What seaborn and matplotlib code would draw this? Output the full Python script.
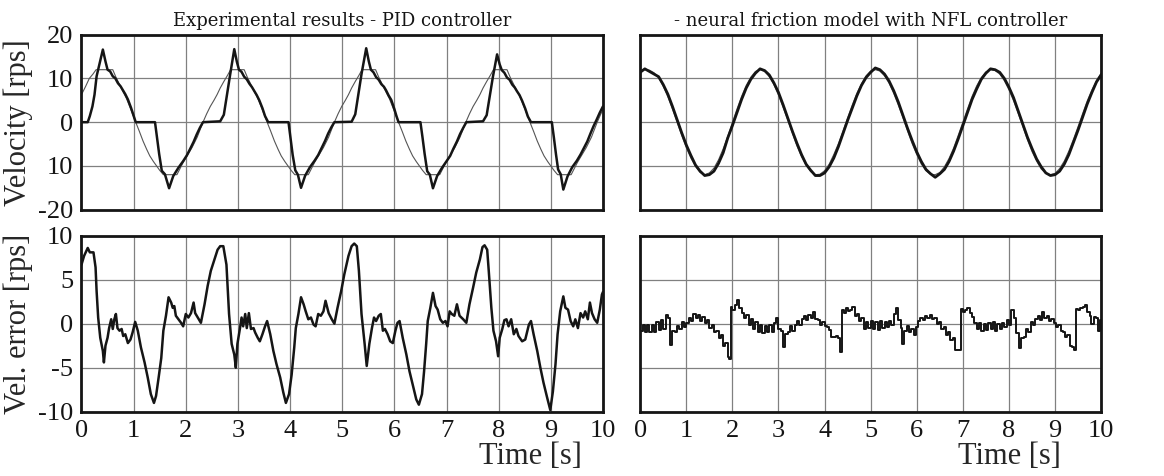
import numpy as np
import matplotlib
matplotlib.use('Agg')
import matplotlib.pyplot as plt
import seaborn as sns

# ---- PID controller: measured velocity (thick) ----
vel_pid_t = [0.00, 0.12, 0.16, 0.21, 0.25, 0.29, 0.34, 0.41, 0.46, 0.50, 0.55, 0.60, 0.65, 0.70, 0.75, 0.79,
             0.84, 0.89, 0.95, 1.00, 1.04, 1.41, 1.45, 1.49, 1.54, 1.60, 1.68, 1.76, 1.86, 1.95, 2.02, 2.08,
             2.15, 2.21, 2.27, 2.33, 2.66, 2.73, 2.79, 2.85, 2.93,
             2.98, 3.02, 3.07, 3.12, 3.17, 3.22, 3.27, 3.31, 3.36, 3.41, 3.47, 3.52, 3.58, 3.97, 4.01, 4.05,
             4.10, 4.15, 4.21, 4.29, 4.38, 4.47, 4.54, 4.60, 4.67, 4.73, 4.79, 4.85, 5.18, 5.25, 5.31, 5.37, 5.46,
             5.51, 5.55, 5.60, 5.65, 5.70, 5.75, 5.80, 5.84, 5.89, 5.94, 6.00, 6.04, 6.08, 6.50, 6.54, 6.58,
             6.63, 6.68, 6.74, 6.82, 6.91, 7.00, 7.07, 7.13, 7.20, 7.26, 7.32, 7.38, 7.70, 7.77, 7.83, 7.89, 7.97,
             8.02, 8.06, 8.11, 8.16, 8.21, 8.26, 8.31, 8.35, 8.40, 8.45, 8.51, 8.56, 8.62, 9.02, 9.06, 9.10,
             9.14, 9.19, 9.24, 9.32, 9.41, 9.50, 9.57, 9.63, 9.70, 9.76, 9.82, 9.88, 9.94, 10.0]
vel_pid = [0.0, 0.0, 1.4, 3.6, 6.3, 10.5, 13.0, 16.6, 13.9, 12.0, 11.6, 10.5, 10.0, 8.9, 8.2, 7.4,
           6.4, 5.2, 3.3, 1.5, 0.0, 0.0, -3.6, -7.3, -11.1, -11.9, -15.1, -12.3, -10.4, -8.9, -7.6, -6.2,
           -4.5, -2.8, -1.3, 0.0, 0.2, 1.7, 6.3, 10.8, 16.7,
           13.8, 12.0, 11.5, 10.4, 9.8, 8.8, 8.0, 7.2, 6.2, 5.0, 3.2, 1.4, 0.0, 0.0, -3.8, -7.5,
           -11.0, -12.0, -15.0, -12.2, -10.3, -8.8, -7.5, -6.0, -4.3, -2.6, -1.2, 0.0, 0.1, 1.8, 6.4, 11.0, 16.9,
           13.9, 12.0, 11.4, 10.3, 9.7, 8.7, 8.1, 7.3, 6.1, 5.1, 3.0, 1.4, 0.0, 0.0, -3.5, -7.2,
           -11.2, -12.0, -15.1, -12.3, -10.5, -8.9, -7.7, -6.1, -4.4, -2.7, -1.3, 0.0, 0.2, 1.6, 6.0, 10.4, 15.5,
           13.2, 11.9, 11.3, 10.2, 9.7, 8.6, 7.9, 7.1, 6.2, 4.9, 3.1, 1.3, 0.0, 0.0, -3.6, -7.4,
           -10.8, -11.9, -15.4, -12.4, -10.3, -8.8, -7.4, -6.0, -4.4, -2.6, -0.9, 0.6, 2.2, 3.6]

# ---- PID controller: reference velocity (thin) ----
ref_pid_t = [0.00, 0.08, 0.15, 0.22, 0.28, 0.60, 0.66, 0.73, 0.80, 0.86, 0.95, 1.04, 1.11, 1.18, 1.25, 1.31,
             1.38, 1.44, 1.50, 1.57, 1.83, 1.89, 1.95, 2.03, 2.12, 2.22, 2.33, 2.40, 2.47, 2.54, 2.60, 2.66,
             2.73, 2.80, 2.86, 3.12, 3.18, 3.25, 3.32, 3.38, 3.47, 3.56, 3.63, 3.70, 3.77, 3.83, 3.90, 3.96,
             4.02, 4.09, 4.35, 4.41, 4.47, 4.55, 4.64, 4.74, 4.85, 4.92, 4.99, 5.06, 5.12, 5.18, 5.25, 5.32,
             5.38, 5.64, 5.70, 5.77, 5.84, 5.90, 5.99, 6.08, 6.15, 6.22, 6.29, 6.35, 6.42, 6.48, 6.54, 6.61,
             6.87, 6.93, 6.99, 7.07, 7.16, 7.26, 7.37, 7.44, 7.51, 7.58, 7.64, 7.70, 7.77, 7.84, 7.90, 8.16,
             8.22, 8.29, 8.36, 8.42, 8.51, 8.60, 8.67, 8.74, 8.81, 8.87, 8.94, 9.00, 9.06, 9.13, 9.39, 9.45,
             9.51, 9.59, 9.68, 9.78, 9.89, 9.96, 10.0]
ref_pid = [6.3, 8.2, 10.0, 11.0, 12.0, 12.0, 10.3, 8.6, 6.9, 5.5, 2.8, 0.0, -2.1, -4.3, -6.2, -7.7,
           -9.0, -10.0, -11.0, -12.0, -12.0, -10.6, -9.2, -7.6, -5.8, -3.4, 0.0, 1.9, 3.6, 5.0, 6.3, 7.8,
           9.3, 10.7, 12.0, 12.0, 10.3, 8.6, 6.9, 5.5, 2.8, 0.0, -2.1, -4.3, -6.2, -7.7, -9.0, -10.0,
           -11.0, -12.0, -12.0, -10.6, -9.2, -7.6, -5.8, -3.4, 0.0, 1.9, 3.6, 5.0, 6.3, 7.8, 9.3, 10.7,
           12.0, 12.0, 10.3, 8.6, 6.9, 5.5, 2.8, 0.0, -2.1, -4.3, -6.2, -7.7, -9.0, -10.0, -11.0, -12.0,
           -12.0, -10.6, -9.2, -7.6, -5.8, -3.4, 0.0, 1.9, 3.6, 5.0, 6.3, 7.8, 9.3, 10.7, 12.0, 12.0,
           10.3, 8.6, 6.9, 5.5, 2.8, 0.0, -2.1, -4.3, -6.2, -7.7, -9.0, -10.0, -11.0, -12.0, -12.0, -10.6,
           -9.2, -7.6, -5.8, -3.4, 0.0, 1.9, 2.8]

# ---- PID controller: velocity error ----
err_pid_t = [0.00, 0.05, 0.12, 0.16, 0.23, 0.27, 0.29, 0.32, 0.36, 0.41, 0.43, 0.46, 0.50, 0.53, 0.57, 0.60,
             0.63, 0.66, 0.69, 0.73, 0.77, 0.80, 0.84, 0.89, 0.94, 0.98, 1.03, 1.08, 1.14, 1.21, 1.27, 1.33,
             1.39, 1.43, 1.48, 1.53, 1.57, 1.62, 1.67, 1.72, 1.75, 1.78, 1.81, 1.86, 1.91, 1.95, 2.00, 2.05,
             2.10, 2.15, 2.18, 2.23, 2.29, 2.36, 2.42, 2.48, 2.55,
             2.61, 2.66, 2.72, 2.78, 2.83, 2.88, 2.93, 2.96, 2.99, 3.04, 3.07, 3.10, 3.14, 3.17, 3.21, 3.25,
             3.30, 3.33, 3.38, 3.42, 3.47, 3.52, 3.56, 3.62, 3.68, 3.74, 3.81, 3.87, 3.92, 3.98, 4.03, 4.08,
             4.11, 4.16, 4.21, 4.26, 4.30, 4.35, 4.40, 4.45, 4.49, 4.54, 4.59, 4.64, 4.68, 4.74, 4.80, 4.85,
             4.91, 4.98, 5.04, 5.12, 5.18, 5.23, 5.28, 5.32, 5.37, 5.43, 5.47, 5.52, 5.57,
             5.61, 5.65, 5.70, 5.74, 5.78, 5.82, 5.87, 5.92, 5.97, 6.02, 6.06, 6.10, 6.16, 6.23, 6.29, 6.36,
             6.42, 6.47, 6.53, 6.57, 6.61, 6.64, 6.69, 6.74, 6.79, 6.83, 6.88, 6.93, 6.98, 7.02, 7.06, 7.10,
             7.15, 7.20, 7.25, 7.32, 7.38, 7.44, 7.51, 7.57, 7.64, 7.69, 7.73, 7.78, 7.81, 7.86, 7.90, 7.95,
             7.99, 8.02,
             8.07, 8.11, 8.15, 8.19, 8.24, 8.29, 8.34, 8.38, 8.45, 8.51, 8.58, 8.62, 8.67, 8.74, 8.80, 8.86,
             8.93, 8.99, 9.04, 9.09, 9.13, 9.18, 9.24, 9.28, 9.33, 9.38, 9.43, 9.47, 9.52, 9.57, 9.62, 9.66,
             9.71, 9.75, 9.79, 9.84, 9.89, 9.94, 9.98, 10.0]
err_pid = [6.7, 7.7, 8.6, 8.1, 8.1, 6.4, 3.7, 0.7, -1.6, -3.1, -4.4, -2.5, -1.6, -0.5, 0.5, -0.6,
           0.5, 1.1, -0.5, -0.8, -0.6, -1.4, -1.2, -2.2, -1.8, -1.0, 0.2, -0.8, -2.7, -4.4, -6.1, -8.0,
           -9.0, -8.2, -6.1, -3.9, -0.8, 0.9, 3.0, 2.4, 1.8, 2.0, 0.9, 0.5, 0.1, -0.3, 1.1, 0.7,
           1.2, 2.4, 1.2, 0.7, 0.1, 2.2, 4.3, 6.0, 7.3,
           8.4, 8.8, 8.8, 6.7, 1.1, -2.3, -3.5, -5.0, -2.3, -0.5, 0.7, -0.3, 1.1, -0.5, 1.2, -0.6,
           -0.5, -1.0, -1.6, -2.0, -1.2, -0.3, 0.3, -1.2, -3.1, -4.6, -6.1, -7.8, -9.0, -8.0, -5.8, -2.7,
           -0.5, 1.1, 3.0, 2.2, 1.4, 0.5, 0.7, -0.1, -0.3, 1.1, 0.9, 1.4, 2.6, 1.2, 0.5, 0.0,
           1.8, 3.7, 5.6, 7.7, 8.8, 9.1, 8.8, 6.0, 1.1, -2.3, -4.8, -2.3, -0.5,
           0.7, 0.3, 0.9, 1.1, -0.8, -0.6, -1.2, -2.0, -2.2, -0.8, 0.1, 0.3, -1.6, -3.5, -5.4, -7.1,
           -8.6, -9.2, -8.0, -5.4, -2.3, 0.3, 1.8, 3.5, 2.0, 1.6, 0.5, 0.1, 0.3, -0.3, 1.4, 1.1,
           0.9, 2.2, 0.9, 0.5, 0.1, 2.2, 4.1, 5.8, 7.3, 8.7, 8.9, 8.4, 6.0, 1.8, -0.8, -2.0,
           -3.7, -1.6,
           -0.6, 0.4, 0.5, -0.3, 0.5, -1.2, -0.6, -1.4, -2.0, -1.8, -0.1, 0.3, -1.2, -3.1, -5.0, -6.7,
           -8.4, -9.8, -7.7, -4.6, -1.2, 1.4, 3.1, 1.8, 1.6, 0.3, -0.3, 0.5, -0.5, 1.2, 0.7, 1.4,
           0.5, 2.4, 1.2, 0.5, 0.1, 1.6, 3.3, 3.6]

# ---- NFL controller: velocity, sampled every 0.1 s ----
nfl_t = np.linspace(0, 10, 101)
nfl_ref = [11.7, 12.0, 11.9, 11.3, 10.1, 8.2, 5.8, 3.0, 0.0, -3.0, -5.8, -8.2, -10.1, -11.5, -12.0, -11.6,
           -10.5, -8.6, -6.1, -3.2, -0.1, 3.0, 5.9, 8.4, 10.3, 11.6, 12.0, 11.6, 10.4, 8.6, 6.2, 3.4,
           0.5, -2.5, -5.4, -7.9, -9.9, -11.3, -12.0, -11.9, -11.1, -9.6, -7.4, -4.9, -2.0, 1.0, 3.9, 6.6,
           8.8, 10.6, 11.7, 12.0, 11.7, 10.6, 8.9, 6.6, 3.9, 1.0, -2.0, -4.9, -7.4, -9.6, -11.1, -11.9,
           -12.0, -11.5, -10.2, -8.3, -5.9, -3.0, 0.0, 3.0, 5.9, 8.3, 10.2, 11.5, 12.0, 11.8, 11.0, 9.5,
           7.4, 4.9, 2.0, -1.0, -4.0, -6.7, -8.9, -10.7, -11.7, -12.0, -11.7, -10.6, -8.9, -6.6, -3.9, -1.0,
           2.0, 4.9, 7.4, 9.6, 11.2]
nfl_vel = [11.4, 12.2, 11.6, 11.0, 10.4, 8.6, 6.4, 3.6, 0.6, -2.4, -5.2, -7.6, -9.8, -11.2, -12.2, -12.0,
           -11.2, -9.4, -7.0, -3.6, -0.8, 2.2, 5.2, 7.8, 9.8, 11.2, 12.2, 11.8, 10.8, 9.0, 6.8, 4.0,
           1.0, -2.0, -4.8, -7.4, -9.6, -11.0, -12.2, -12.2, -11.6, -10.2, -8.2, -5.6, -2.6, 0.4, 3.2, 6.0,
           8.4, 10.2, 11.4, 12.4, 12.0, 11.0, 9.4, 7.2, 4.6, 1.6, -1.4, -4.2, -6.8, -9.0, -10.8, -11.8,
           -12.6, -11.8, -10.8, -9.0, -6.6, -3.8, -0.8, 2.2, 5.2, 7.6, 9.8, 11.2, 12.2, 12.0, 11.4, 10.0,
           8.0, 5.6, 2.6, -0.4, -3.4, -6.0, -8.4, -10.2, -11.6, -12.2, -12.0, -11.2, -9.6, -7.4, -4.6, -1.8,
           1.2, 4.2, 6.8, 9.2, 10.8]

# ---- NFL controller: velocity error ----
err_nfl_t = [0.00, 0.05, 0.10, 0.15, 0.20, 0.25, 0.30, 0.35, 0.40, 0.45, 0.50, 0.55, 0.60, 0.65, 0.70, 0.75,
             0.80, 0.85, 0.90, 0.95, 1.00, 1.05, 1.10, 1.15, 1.20, 1.25, 1.30, 1.35, 1.40, 1.45, 1.50, 1.55,
             1.60, 1.65, 1.70, 1.75, 1.80, 1.85, 1.90, 1.93, 1.96, 2.00, 2.05, 2.10, 2.15, 2.20, 2.25, 2.30,
             2.35, 2.40, 2.45, 2.50, 2.55, 2.60, 2.65, 2.70, 2.75, 2.80, 2.85, 2.90, 2.95, 3.00, 3.05, 3.10,
             3.15, 3.20, 3.25, 3.30, 3.35, 3.40, 3.45, 3.50, 3.55, 3.60, 3.65, 3.70, 3.75, 3.80, 3.85, 3.90,
             3.95, 4.00, 4.05, 4.10, 4.15, 4.20, 4.25, 4.30, 4.34, 4.38, 4.42, 4.46, 4.50, 4.55, 4.60, 4.65,
             4.70, 4.75, 4.80, 4.85, 4.90, 4.95, 5.00, 5.05, 5.10, 5.15, 5.20, 5.25, 5.30, 5.35, 5.40, 5.45,
             5.50, 5.55, 5.60, 5.65, 5.69, 5.73, 5.78, 5.83, 5.88, 5.93, 5.98, 6.03, 6.08, 6.13, 6.18, 6.23,
             6.28, 6.33, 6.38, 6.43, 6.48, 6.53, 6.58, 6.63, 6.68, 6.73, 6.78, 6.83, 6.92, 6.95, 7.00, 7.05,
             7.10, 7.15, 7.20, 7.25, 7.30, 7.35, 7.40, 7.45, 7.50, 7.55, 7.60, 7.65, 7.70, 7.75, 7.80, 7.85,
             7.90, 7.95, 8.00, 8.05, 8.10, 8.15, 8.22, 8.27, 8.32, 8.37, 8.42, 8.47, 8.52, 8.57, 8.62, 8.67,
             8.72, 8.77, 8.82, 8.87, 8.92, 8.97, 9.02, 9.07, 9.12, 9.17, 9.22, 9.27, 9.32, 9.37, 9.41, 9.45,
             9.50, 9.55, 9.60, 9.65, 9.70, 9.75, 9.79, 9.84, 9.88, 9.93, 9.97, 10.0]
err_nfl = [-0.8, -0.2, -1.0, -0.1, -0.9, -0.2, -1.0, 0.2, -0.7, 0.4, -0.6, 1.0, 0.6, -2.4, -0.8, -1.0,
           -0.3, -0.6, 0.2, -0.4, 0.1, 0.6, 0.3, 1.1, 0.7, 1.0, 0.3, 0.8, 0.1, 0.4, -0.5, -0.2,
           -1.0, -0.8, -1.6, -1.3, -2.5, -2.2, -3.8, -4.0, 1.9, 1.5, 2.1, 2.7, 1.8, 1.2, 0.6, 1.0,
           -0.2, 0.5, -0.6, 0.2, -0.9, -0.2, -1.1, -0.3, -1.0, -0.2, -0.9, 0.1, 0.7, -0.6, -0.8, -2.6,
           -1.2, -0.9, -0.3, -0.8, -0.2, 0.3, -0.1, 0.5, 0.9, 0.4, 1.0, 0.6, 1.3, 0.5, 0.4, -0.1,
           0.2, -0.3, -0.4, -0.7, -1.5, -1.5, -1.4, -1.6, -3.2, 1.5, 1.2, 1.8, 1.4, 1.6, 1.9, 0.9,
           1.1, 0.3, 0.6, -0.6, 0.2, -0.5, 0.3, -0.6, 0.2, -0.7, 0.3, -0.5, 0.2, -0.4, 0.3, -0.2,
           1.1, 1.8, 0.4, -0.5, -2.3, -0.8, -0.3, -0.9, -0.6, -1.3, -0.4, 0.3, 0.7, 0.4, 0.9, 0.6,
           1.0, 0.5, 0.7, 0.0, 0.2, -0.6, -0.4, -1.3, -1.0, -1.9, -1.6, -3.0, -3.0, 1.7, 1.3, 1.6,
           1.8, 1.2, 0.8, 0.1, -0.6, 0.1, -0.8, 0.0, -0.7, 0.1, -0.6, 0.2, -0.8, 0.0, -0.6, 0.1,
           -0.4, 0.4, -0.2, 1.5, 0.6, -1.1, -2.8, -1.6, -1.5, -0.6, -0.9, 0.2, -0.2, 0.5, 0.9, 0.4,
           1.3, 0.6, 0.9, 0.3, 0.5, 0.1, -0.4, -0.2, -0.8, -1.0, -1.5, -1.3, -2.5, -2.6, -3.0, 1.7,
           1.6, 1.8, 1.9, 2.1, 1.3, 0.9, 0.0, 0.8, 0.6, -0.8, 0.4, 0.4]

time_ticks = list(range(11))
vel_ticks = [-20, -10, 0, 10, 20]
vel_tick_labels = ['-20', '10', '0', '10', '20']
err_ticks = [-10, -5, 0, 5, 10]
err_tick_labels = ['-10', '-5', '0', '5', '10']

sns.set_theme(style='white')
plt.rcParams['font.family'] = 'serif'
plt.rcParams['font.serif'] = ['Liberation Serif']

fig = plt.figure(figsize=(11.64, 4.76), dpi=100)
ax_vp = fig.add_axes([0.070, 0.5595, 0.448, 0.3676])
ax_ep = fig.add_axes([0.070, 0.135, 0.448, 0.370])
ax_vn = fig.add_axes([0.550, 0.5595, 0.396, 0.3676])
ax_en = fig.add_axes([0.550, 0.135, 0.396, 0.370])


def style(ax, ylim, yticks, ylabels):
    ax.set_xlim(0, 10)
    ax.set_ylim(ylim)
    ax.set_xticks(time_ticks)
    ax.set_yticks(yticks)
    ax.set_yticklabels(ylabels)
    ax.grid(True, color='#808080', linewidth=0.9)
    for s in ax.spines.values():
        s.set_visible(True)
        s.set_linewidth(2.0)
        s.set_color('#151515')
    ax.tick_params(length=0, labelsize=19, pad=6, colors='#151515')
    ax.set_xlabel('')
    ax.set_ylabel('')


sns.lineplot(x=ref_pid_t, y=ref_pid, ax=ax_vp, color='#555555', linewidth=0.8, estimator=None)
sns.lineplot(x=vel_pid_t, y=vel_pid, ax=ax_vp, color='#151515', linewidth=1.8, estimator=None)
sns.lineplot(x=err_pid_t, y=err_pid, ax=ax_ep, color='#151515', linewidth=1.8, estimator=None)
sns.lineplot(x=nfl_t, y=nfl_ref, ax=ax_vn, color='#555555', linewidth=0.8, estimator=None)
sns.lineplot(x=nfl_t, y=nfl_vel, ax=ax_vn, color='#151515', linewidth=2.0, estimator=None)
sns.lineplot(x=err_nfl_t, y=err_nfl, ax=ax_en, color='#151515', linewidth=1.4, estimator=None,
             drawstyle='steps-post')

style(ax_vp, (-20, 20), vel_ticks, vel_tick_labels)
style(ax_ep, (-10, 10), err_ticks, err_tick_labels)
style(ax_vn, (-20, 20), vel_ticks, vel_tick_labels)
style(ax_en, (-10, 10), err_ticks, err_tick_labels)

for ax in (ax_vp, ax_vn):
    ax.tick_params(labelbottom=False)
for ax in (ax_vn, ax_en):
    ax.tick_params(labelleft=False)

ax_vp.set_ylabel('Velocity [rps]', fontsize=22)
ax_ep.set_ylabel('Vel. error [rps]', fontsize=22)
for ax in (ax_vp, ax_ep):
    ax.yaxis.set_label_coords(-0.093, 0.5)

ax_ep.set_xlabel('Time [s]', fontsize=22)
ax_ep.xaxis.set_label_coords(0.86, -0.17)
ax_en.set_xlabel('Time [s]', fontsize=22)
ax_en.xaxis.set_label_coords(0.80, -0.17)

ax_vp.set_title('Experimental results - PID controller', fontsize=13, family='DejaVu Serif',
                pad=6, color='#151515')
ax_vn.set_title('- neural friction model with NFL controller', fontsize=13, family='DejaVu Serif',
                pad=6, color='#151515')

fig.savefig('out.png', dpi=100, facecolor='white')
